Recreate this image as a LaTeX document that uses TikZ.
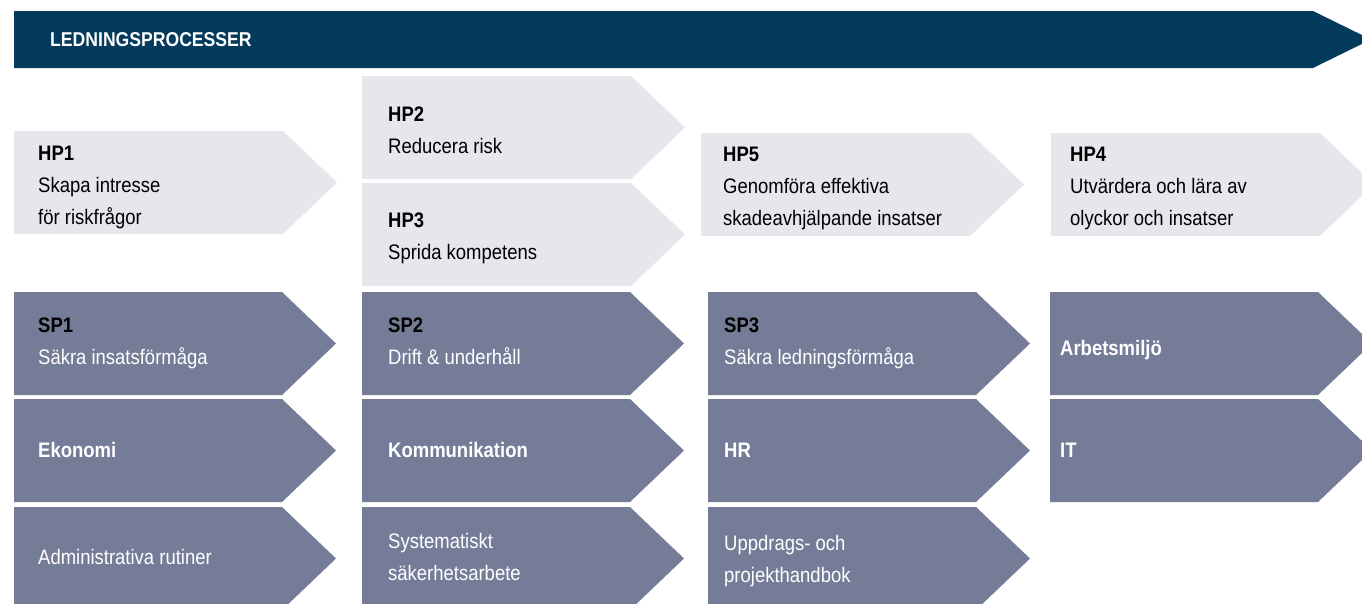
\documentclass[tikz,border=0pt]{standalone}
\usepackage{fontspec}
\setmainfont{Liberation Sans}[FakeStretch=0.88]
\definecolor{navy}{RGB}{4,58,92}
\definecolor{lightbox}{RGB}{230,231,236}
\definecolor{slate}{RGB}{116,124,152}
\begin{document}
\begin{tikzpicture}[x=1pt, y=-1pt,
  txt/.style={anchor=west, inner sep=0pt, align=left, font=\fontsize{21}{32}\selectfont,
    execute at begin node=\strut, execute at end node=\strut},
  dtxt/.style={txt, text=white}]
\useasboundingbox (0,0) rectangle (1362,603);
\clip (0,0) rectangle (1362,603);

% banner
\fill[navy] (14,11) -- (1313,11) -- (1371,39.5) -- (1313,68) -- (14,68) -- cycle;
\node (title) [txt, text=white, font=\fontsize{20}{32}\selectfont\bfseries] at (50,40) {LEDNINGSPROCESSER};

% main processes
\foreach \x/\y in {14/131, 362/76, 362/183, 701/133, 1051/133}
  \fill[lightbox] (\x,\y) -- ++(269,0) -- ++(54,51.5) -- ++(-54,51.5) -- ++(-269,0) -- cycle;

% support processes
\foreach \x in {14,362,708}
  \foreach \y in {292,399,507}
    \fill[slate] (\x,\y) -- ++(268,0) -- ++(54,51.5) -- ++(-54,51.5) -- ++(-268,0) -- cycle;
\foreach \y in {292,399}
  \fill[slate] (1050,\y) -- ++(268,0) -- ++(54,51.5) -- ++(-54,51.5) -- ++(-268,0) -- cycle;

\node (hp1) [txt] at (38,190) {\textbf{HP1}\\Skapa intresse\\för riskfrågor};
\node (hp2) [txt] at (388,134.5) {\textbf{HP2}\\Reducera risk};
\node (hp3) [txt] at (388,240.5) {\textbf{HP3}\\Sprida kompetens};
\node (hp5) [txt] at (723,191) {\textbf{HP5}\\Genomföra effektiva\\skadeavhjälpande insatser};
\node (hp4) [txt] at (1070,191) {\textbf{HP4}\\Utvärdera och lära av\\olyckor och insatser};

\node (sp1) [dtxt] at (38,346) {\textcolor{black}{\textbf{SP1}}\\Säkra insatsförmåga};
\node (ekonomi) [dtxt] at (38,451) {\textbf{Ekonomi}};
\node (rutiner) [dtxt] at (38,558) {Administrativa rutiner};

\node (sp2) [dtxt] at (388,346) {\textcolor{black}{\textbf{SP2}}\\Drift \& underhåll};
\node (komm) [dtxt] at (388,451) {\textbf{Kommunikation}};
\node (sakerhet) [dtxt] at (388,562) {Systematiskt\\säkerhetsarbete};

\node (sp3) [dtxt] at (724,346) {\textcolor{black}{\textbf{SP3}}\\Säkra ledningsförmåga};
\node (hr) [dtxt] at (724,451) {\textbf{HR}};
\node (handbok) [dtxt] at (724,564) {Uppdrags- och\\projekthandbok};

\node (miljo) [dtxt] at (1060,349) {\textbf{Arbetsmiljö}};
\node (it) [dtxt] at (1060,451) {\textbf{IT}};

\end{tikzpicture}
\end{document}
